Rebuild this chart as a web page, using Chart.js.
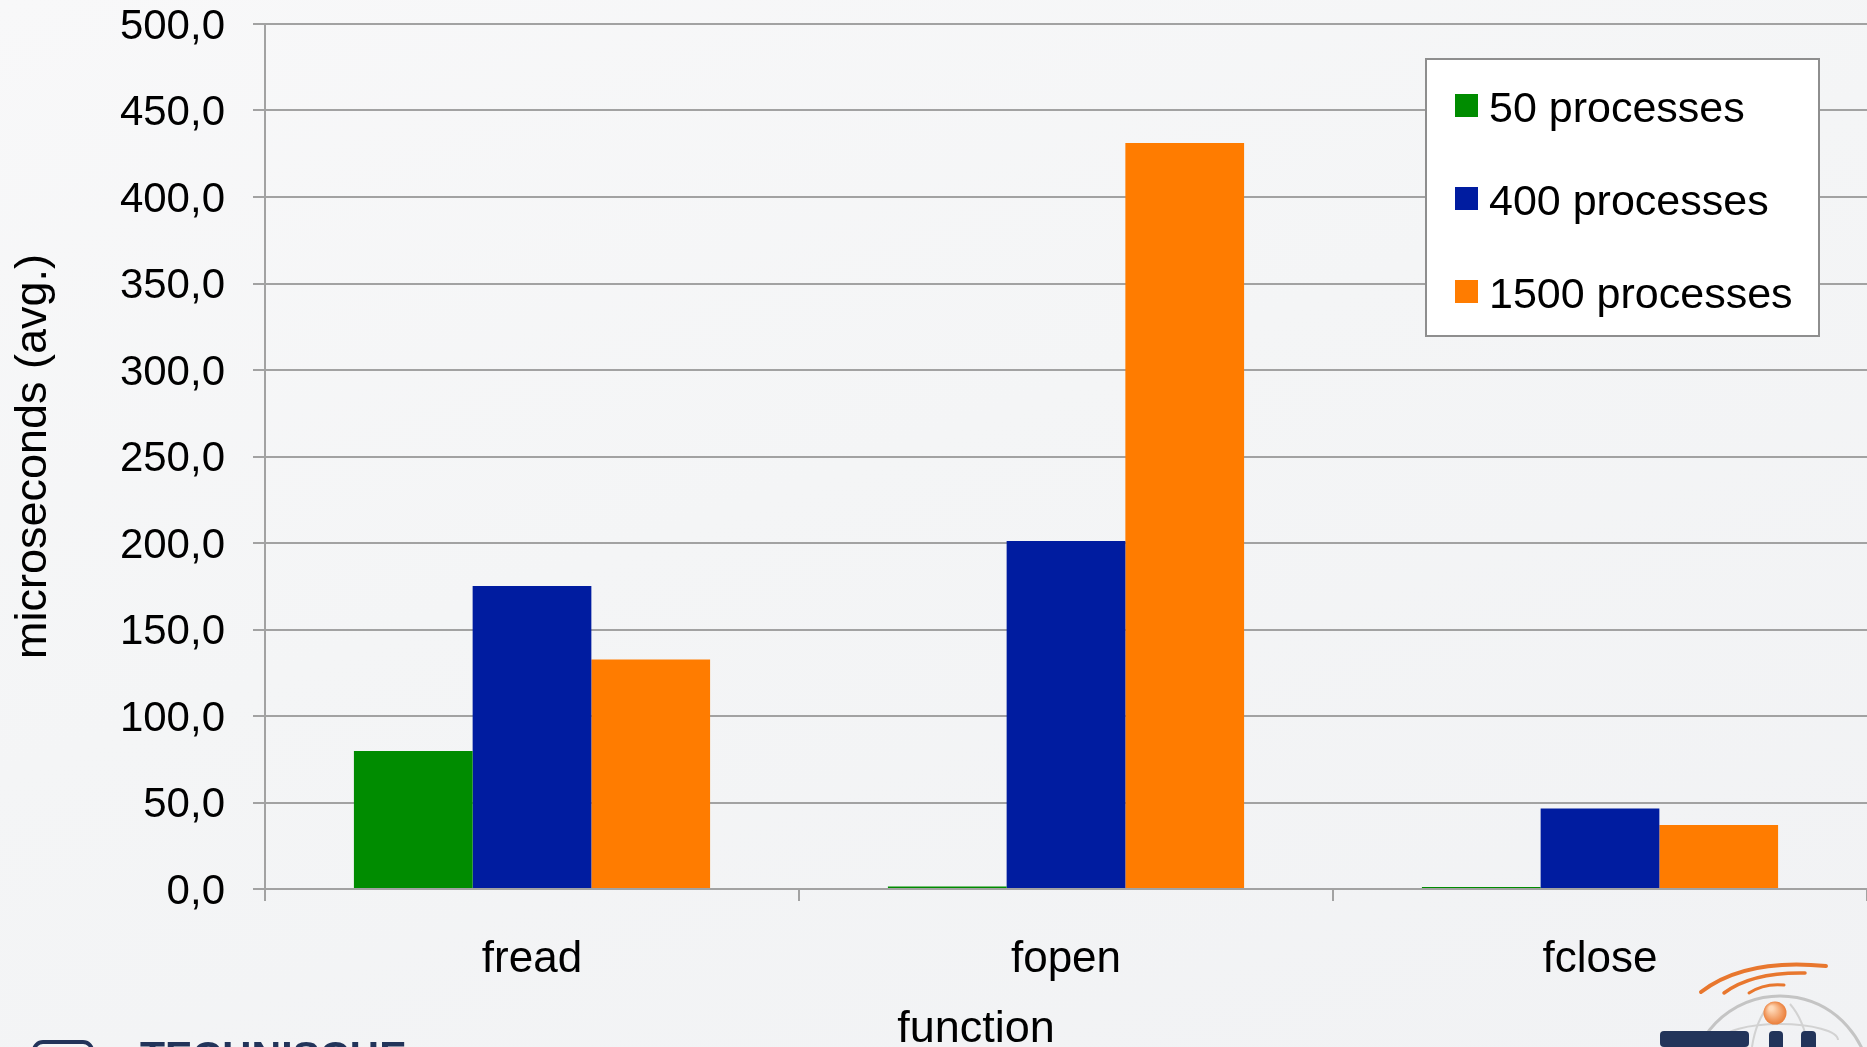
<!DOCTYPE html>
<html>
<head>
<meta charset="utf-8">
<script src="https://cdn.jsdelivr.net/npm/chart.js@4/dist/chart.umd.min.js"></script>
<style>
  html, body { margin: 0; padding: 0; }
  body {
    width: 1867px; height: 1047px; overflow: hidden;
    background: linear-gradient(160deg, #f8f8f9 0%, #f4f5f6 45%, #f1f2f4 100%);
  }
  #wrap { position: relative; width: 1867px; height: 1047px; }
</style>
</head>
<body>
<div id="wrap"><canvas id="c"></canvas></div>
<script>
// Average call latency per function, in microseconds
const categories = ['fread', 'fopen', 'fclose'];
const seriesNames = ['50 processes', '400 processes', '1500 processes'];
const procs50   = [79.8, 1.5, 1.2];
const procs400  = [175.1, 201.2, 46.5];
const procs1500 = [132.6, 431.2, 37.0];
const yMin = 0, yMax = 500, yStep = 50;
const seriesColors = ['#008c00', '#001ca0', '#ff7c00'];

const FONT = '"Liberation Sans", Arial, Helvetica, sans-serif';
const GRID = '#a2a2a2';
const NAVY = '#22345a';

// Boxed legend in the upper right of the plot
const boxLegend = {
  id: 'boxLegend',
  afterDraw(chart) {
    const ctx = chart.ctx;
    ctx.save();
    const x0 = 1426, y0 = 59, w = 393, h = 277;
    ctx.fillStyle = '#ffffff';
    ctx.fillRect(x0, y0, w, h);
    ctx.strokeStyle = '#8e8e8e';
    ctx.lineWidth = 2;
    ctx.strokeRect(x0, y0, w, h);
    ctx.font = '43px ' + FONT;
    ctx.textAlign = 'left';
    ctx.textBaseline = 'alphabetic';
    chart.data.datasets.forEach((ds, i) => {
      const base = 122 + i * 93;
      ctx.fillStyle = ds.backgroundColor;
      ctx.fillRect(1455, base - 28, 23, 23);
      ctx.fillStyle = '#000';
      ctx.fillText(ds.label, 1489, base);
    });
    ctx.restore();
  }
};

// Horizontal axis title, placed left of the plot centre
const xTitle = {
  id: 'xTitle',
  afterDraw(chart) {
    const ctx = chart.ctx;
    ctx.save();
    ctx.font = '45px ' + FONT;
    ctx.fillStyle = '#000';
    ctx.textAlign = 'center';
    ctx.textBaseline = 'alphabetic';
    ctx.fillText('function', 976, 1042);
    ctx.restore();
  }
};

// Footer branding of the slide (cut off by the bottom edge)
const footer = {
  id: 'footer',
  beforeDraw(chart) {
    const ctx = chart.ctx;
    ctx.save();
    // left emblem + wordmark
    ctx.strokeStyle = NAVY;
    ctx.lineWidth = 4;
    ctx.beginPath();
    ctx.roundRect(34, 1042, 58, 40, 9);
    ctx.stroke();
    ctx.fillStyle = NAVY;
    ctx.font = 'bold 41px ' + FONT;
    ctx.textBaseline = 'alphabetic';
    ctx.fillText('TECHNISCHE', 140, 1070);

    // right emblem: globe
    ctx.strokeStyle = '#c4c4c4';
    ctx.lineWidth = 3;
    ctx.beginPath();
    ctx.arc(1780, 1086, 90, Math.PI * 1.06, Math.PI * 1.98);
    ctx.stroke();
    ctx.strokeStyle = '#d2d2d2';
    ctx.lineWidth = 2;
    ctx.beginPath();
    ctx.ellipse(1780, 1040, 58, 16, 0, Math.PI, Math.PI * 2);
    ctx.stroke();
    ctx.beginPath();
    ctx.moveTo(1752, 1047); ctx.quadraticCurveTo(1756, 1020, 1770, 1004);
    ctx.moveTo(1808, 1047); ctx.quadraticCurveTo(1804, 1020, 1790, 1004);
    ctx.stroke();

    // orange waves
    ctx.strokeStyle = '#e8772e';
    ctx.lineCap = 'round';
    ctx.lineWidth = 4;
    ctx.beginPath();
    ctx.moveTo(1701, 992); ctx.quadraticCurveTo(1745, 958, 1826, 966);
    ctx.stroke();
    ctx.lineWidth = 3.5;
    ctx.beginPath();
    ctx.moveTo(1724, 993); ctx.quadraticCurveTo(1752, 972, 1805, 973);
    ctx.stroke();
    ctx.lineWidth = 3;
    ctx.beginPath();
    ctx.moveTo(1749, 993); ctx.quadraticCurveTo(1764, 983, 1784, 985);
    ctx.stroke();

    // orange ball
    const g = ctx.createRadialGradient(1771, 1008, 2, 1775, 1013, 12);
    g.addColorStop(0, '#ffd9b8');
    g.addColorStop(1, '#ea7b35');
    ctx.fillStyle = g;
    ctx.beginPath();
    ctx.arc(1775, 1013, 11.5, 0, Math.PI * 2);
    ctx.fill();

    // navy letters
    ctx.fillStyle = NAVY;
    ctx.beginPath(); ctx.roundRect(1660, 1031, 89, 16, 4); ctx.fill();
    ctx.beginPath(); ctx.roundRect(1769, 1031, 14, 30, 4); ctx.fill();
    ctx.beginPath(); ctx.roundRect(1801, 1031, 15, 30, 4); ctx.fill();
    ctx.restore();
  }
};

const tickLabel = v => v.toFixed(1).replace('.', ',');

new Chart(document.getElementById('c'), {
  type: 'bar',
  data: {
    labels: categories,
    datasets: [
      { label: seriesNames[0], data: procs50,   backgroundColor: seriesColors[0] },
      { label: seriesNames[1], data: procs400,  backgroundColor: seriesColors[1] },
      { label: seriesNames[2], data: procs1500, backgroundColor: seriesColors[2] }
    ]
  },
  options: {
    responsive: true,
    maintainAspectRatio: false,
    animation: false,
    layout: { padding: { top: 0, right: 0, bottom: 0, left: 0 } },
    datasets: { bar: { categoryPercentage: 0.667, barPercentage: 1, borderWidth: 0 } },
    plugins: { legend: { display: false }, tooltip: { enabled: false } },
    scales: {
      x: {
        offset: true,
        grid: { display: true, drawOnChartArea: false, drawTicks: true, tickLength: 12, color: GRID, lineWidth: 2, offset: true },
        border: { color: GRID, width: 2 },
        ticks: { color: '#000', font: { family: FONT, size: 44 }, padding: 32, maxRotation: 0 },
        afterFit(s) { s.height = 158; }
      },
      y: {
        min: yMin, max: yMax,
        ticks: { stepSize: yStep, color: '#000', font: { family: FONT, size: 42, lineHeight: 1.15 }, padding: 28, labelOffset: 3, callback: tickLabel },
        grid: { color: GRID, lineWidth: 2, tickLength: 12 },
        border: { color: GRID, width: 2 },
        title: { display: true, text: 'microseconds (avg.)', color: '#000', font: { family: FONT, size: 45 }, padding: { top: 7, bottom: 0 } },
        afterFit(s) { s.width = 265; s.paddingTop = 24; s.paddingBottom = 0; }
      }
    }
  },
  plugins: [footer, boxLegend, xTitle]
});
</script>
</body>
</html>
